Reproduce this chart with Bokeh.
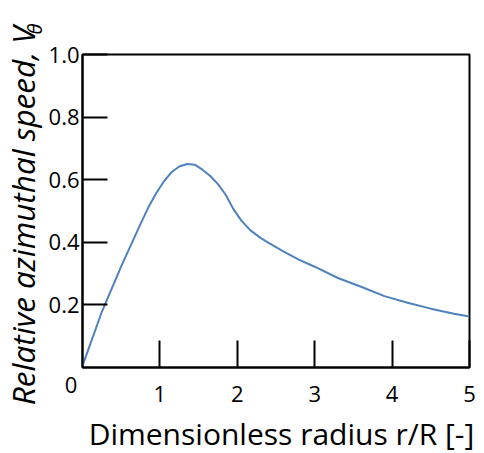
from math import pi
from bokeh.plotting import figure
from bokeh.models import FixedTicker, Label, Range1d
from bokeh.embed import file_html
from bokeh.resources import INLINE

# data
r = [0.0, 0.25, 0.5, 0.75, 0.85, 0.95, 1.05, 1.15, 1.25, 1.35, 1.45, 1.55,
     1.65, 1.75, 1.85, 1.95, 2.05, 2.17, 2.3, 2.4, 2.6, 2.8, 3.0, 3.3, 3.6,
     3.9, 4.2, 4.5, 4.8, 5.0]
v = [0.005, 0.178, 0.323, 0.459, 0.511, 0.556, 0.594, 0.624, 0.642, 0.650,
     0.648, 0.632, 0.612, 0.586, 0.552, 0.506, 0.470, 0.438, 0.414, 0.399,
     0.370, 0.344, 0.322, 0.286, 0.258, 0.228, 0.207, 0.188, 0.172, 0.163]

x_ticks = [1, 2, 3, 4, 5]
y_ticks = [0.2, 0.4, 0.6, 0.8, 1.0]
y_tick_labels = ["0.2", "0.4", "0.6", "0.8", "1.0"]
origin_label = "0"
x_title = "Dimensionless radius r/R [-]"
y_title = "Relative azimuthal speed, V"
y_title_sub = "\u03b8"

FONT = "Open Sans"

p = figure(width=484, height=453, output_backend="svg", toolbar_location=None,
           x_range=Range1d(0, 5), y_range=Range1d(0, 1),
           min_border_left=82, min_border_right=15,
           min_border_top=54, min_border_bottom=86)
p.background_fill_color = "white"
p.border_fill_color = "white"
p.grid.visible = False
p.outline_line_color = "black"
p.outline_line_width = 2
p.outline_line_alpha = 1.0

p.line(r, v, line_color="#4f81bd", line_width=2)

for ax in (p.xaxis[0], p.yaxis[0]):
    ax.axis_line_color = "black"
    ax.axis_line_width = 2
    ax.major_tick_line_color = "black"
    ax.major_tick_line_width = 2
    ax.major_tick_out = 0
    ax.minor_tick_line_color = None
    ax.major_label_text_font = FONT
    ax.major_label_text_font_size = "22px"
    ax.major_label_text_color = "black"

p.xaxis.ticker = FixedTicker(ticks=x_ticks)
p.xaxis.major_tick_in = 27
p.xaxis.major_label_standoff = 18

p.yaxis.ticker = FixedTicker(ticks=y_ticks)
p.yaxis.major_label_overrides = {t: s for t, s in zip(y_ticks, y_tick_labels)}
p.yaxis.major_tick_in = 25
p.yaxis.major_label_standoff = 3

# x title in the panel below the frame
p.add_layout(Label(x=199, y=12, x_units="screen", y_units="screen",
                   text=x_title, text_align="center",
                   text_baseline="alphabetic", text_font=FONT,
                   text_font_size="30px", text_color="black"), "below")

# origin label, placed from the narrow right-hand panel
p.add_layout(Label(x=-398.5, y=-17.5, x_units="screen", y_units="screen",
                   text=origin_label, text_align="center",
                   text_baseline="middle", text_font=FONT,
                   text_font_size="22px", text_color="black"), "right")

# y title (rotated) on the left, its subscript placed from the panel above
p.add_layout(Label(x=20, y=341, x_units="screen", y_units="screen",
                   text=y_title, angle=pi / 2,
                   text_align="right", text_baseline="alphabetic",
                   text_font=FONT, text_font_style="italic",
                   text_font_size="31.5px", text_color="black"), "left")

p.add_layout(Label(x=-48, y=20, x_units="screen", y_units="screen",
                   text=y_title_sub, angle=pi / 2,
                   text_align="left", text_baseline="alphabetic",
                   text_font=FONT, text_font_style="italic",
                   text_font_size="20px", text_color="black"), "above")

open("out.html", "w").write(file_html(p, INLINE))
